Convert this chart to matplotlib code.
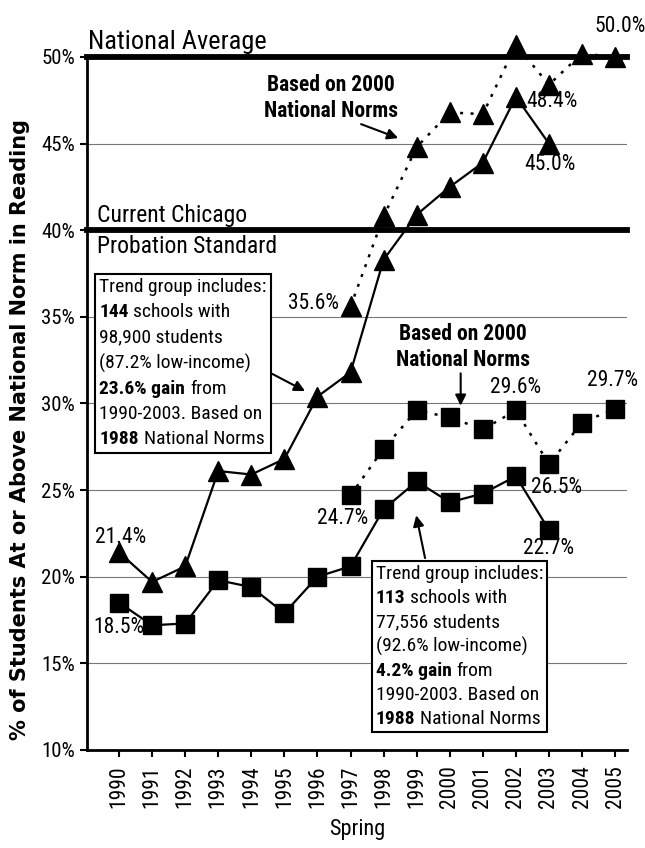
"""
Chicago reading trend: % of students at or above national norm, 1988 vs 2000 norms
"""
import matplotlib
matplotlib.use("Agg")
import matplotlib.pyplot as plt
from matplotlib import font_manager
from matplotlib.offsetbox import TextArea, HPacker, VPacker, AnnotationBbox

# pick a narrow face if one is installed
installed = {f.name for f in font_manager.fontManager.ttflist}
narrow = [n for n in ['Liberation Sans Narrow', 'DejaVu Sans Condensed', 'Roboto Condensed',
                      'Open Sans Condensed', 'Liberation Sans'] if n in installed]
plt.rcParams['font.family'] = narrow[:1] + ['DejaVu Sans']
scale = 1.0 if narrow and ('Narrow' in narrow[0] or 'Condensed' in narrow[0]) else 0.85

# data
years_all = list(range(1990, 2006))
years_1988 = list(range(1990, 2004))
years_2000 = list(range(1997, 2006))

tri_1988 = [21.4, 19.7, 20.6, 26.1, 25.9, 26.8, 30.4, 31.8, 38.3, 40.9, 42.5, 43.9, 47.7, 45.0]
tri_2000 = [35.6, 40.8, 44.8, 46.8, 46.7, 50.7, 48.4, 50.2, 50.0]
sq_1988 = [18.5, 17.2, 17.3, 19.8, 19.4, 17.9, 20.0, 20.6, 23.9, 25.5, 24.3, 24.8, 25.8, 22.7]
sq_2000 = [24.7, 27.4, 29.6, 29.2, 28.5, 29.6, 26.5, 28.9, 29.7]

y_ticks = [10, 15, 20, 25, 30, 35, 40, 45, 50]
thick_levels = [40, 50]

# (year, value, text, dx px, dy px)
point_labels = [
    (1990, 21.4, "21.4%", 2, 15),
    (1990, 18.5, "18.5%", 0, -25),
    (1997, 24.7, "24.7%", -8, -23),
    (1997, 35.6, "35.6%", -37, 3),
    (2002, 50.7, "50.7%", -3, 25),
    (2005, 50.0, "50.0%", 5, 30),
    (2003, 48.4, "48.4%", 3, -17),
    (2003, 45.0, "45.0%", 1, -21),
    (2002, 29.6, "29.6%", 0, 23),
    (2005, 29.7, "29.7%", -3, 28),
    (2003, 26.5, "26.5%", 8, -23),
    (2003, 22.7, "22.7%", 0, -19),
]

box1_lines = [
    [("Trend group includes:", "normal")],
    [("144", "bold"), ("schools with", "normal")],
    [("98,900 students", "normal")],
    [("(87.2% low-income)", "normal")],
    [("23.6% gain", "bold"), ("from", "normal")],
    [("1990-2003. Based on", "normal")],
    [("1988", "bold"), ("National Norms", "normal")],
]
box2_lines = [
    [("Trend group includes:", "normal")],
    [("113", "bold"), ("schools with", "normal")],
    [("77,556 students", "normal")],
    [("(92.6% low-income)", "normal")],
    [("4.2% gain", "bold"), ("from", "normal")],
    [("1990-2003. Based on", "normal")],
    [("1988", "bold"), ("National Norms", "normal")],
]

fig = plt.figure(figsize=(6.45, 8.48), dpi=100)
ax = fig.add_axes([0.1349, 0.1156, 0.8372, 0.8172])
ax.set_xlim(1989.03, 2005.36)
ax.set_ylim(10, 50)

for lv in y_ticks:
    if lv not in thick_levels and lv != 10:
        ax.axhline(lv, color='#777777', lw=0.8, zorder=1)
for lv in thick_levels:
    ax.axhline(lv, color='black', lw=4.2, zorder=2, clip_on=False)

ax.plot(years_1988, tri_1988, color='black', lw=1.6, marker='^', ms=15, zorder=4, clip_on=False)
ax.plot(years_2000, tri_2000, color='black', lw=1.8, dashes=(1.2, 3), marker='^', ms=15, zorder=4, clip_on=False)
ax.plot(years_1988, sq_1988, color='black', lw=1.6, marker='s', ms=12.5, zorder=4, clip_on=False)
ax.plot(years_2000, sq_2000, color='black', lw=1.8, dashes=(1.2, 3), marker='s', ms=12.5, zorder=4, clip_on=False)

for yr, v, txt, dx, dy in point_labels:
    ax.annotate(txt, (yr, v), xytext=(dx * 0.72, dy * 0.72), textcoords='offset points',
                ha='center', va='center', fontsize=15.5 * scale, zorder=6)

ax.text(1989.06, 50.45, "National Average", fontsize=19 * scale, ha='left', va='baseline')
ax.text(1989.33, 40.45, "Current Chicago", fontsize=17 * scale, ha='left', va='baseline')
ax.text(1989.33, 39.75, "Probation Standard", fontsize=17 * scale, ha='left', va='top')

ax.text(1996.4, 47.65, "Based on 2000\nNational Norms", fontsize=15.5 * scale, fontweight='bold',
        ha='center', va='center', linespacing=1.25)
ax.annotate("", xy=(1998.52, 45.26), xytext=(1997.24, 46.18),
            arrowprops=dict(arrowstyle='-|>', color='black', lw=1.5, mutation_scale=16))

ax.text(2000.39, 33.24, "Based on 2000\nNational Norms", fontsize=15.5 * scale, fontweight='bold',
        ha='center', va='center', linespacing=1.25)
ax.annotate("", xy=(2000.33, 29.71), xytext=(2000.33, 31.9),
            arrowprops=dict(arrowstyle='-|>', color='black', lw=1.5, mutation_scale=16))


def make_box(lines, gap):
    rows = []
    for parts in lines:
        areas = [TextArea(t, textprops=dict(fontsize=14 * scale, fontweight=w)) for t, w in parts]
        rows.append(HPacker(children=areas, align='baseline', pad=0, sep=3.5))
    return VPacker(children=rows, align='left', pad=0, sep=gap)


for lines, xy, gap in [(box1_lines, (1989.4, 37.25), 5.2), (box2_lines, (1997.76, 20.65), 4.2)]:
    ab = AnnotationBbox(make_box(lines, gap), xy, xycoords='data', box_alignment=(0, 1),
                        frameon=True, pad=0.3, annotation_clip=False, zorder=5,
                        bboxprops=dict(edgecolor='black', facecolor='white', lw=1.5, boxstyle='square,pad=0.3'))
    ax.add_artist(ab)

ax.annotate("", xy=(1995.70, 30.64), xytext=(1994.55, 31.79),
            arrowprops=dict(arrowstyle='-|>', color='black', lw=1.5, mutation_scale=16))
ax.annotate("", xy=(1998.97, 23.7), xytext=(1999.27, 20.92),
            arrowprops=dict(arrowstyle='-|>', color='black', lw=1.5, mutation_scale=16))

ax.set_xticks(years_all)
ax.set_xticklabels([str(y) for y in years_all], rotation=90, fontsize=15.5 * scale)
ax.set_yticks(y_ticks)
ax.set_yticklabels([f"{v}%" for v in y_ticks], fontsize=15 * scale)
ax.tick_params(axis='both', direction='out', length=5, width=1.5, color='black')
ax.tick_params(axis='x', pad=6)

for s in ['top', 'right']:
    ax.spines[s].set_visible(False)
for s in ['left', 'bottom']:
    ax.spines[s].set_linewidth(2)

ax.set_ylabel("% of Students At or Above National Norm in Reading", fontsize=15,
              fontweight='bold', family=['DejaVu Sans'])
ax.yaxis.set_label_coords(-0.105, 0.463)
ax.set_xlabel("Spring", fontsize=16 * scale, labelpad=8)

fig.savefig("out.png", dpi=100)
